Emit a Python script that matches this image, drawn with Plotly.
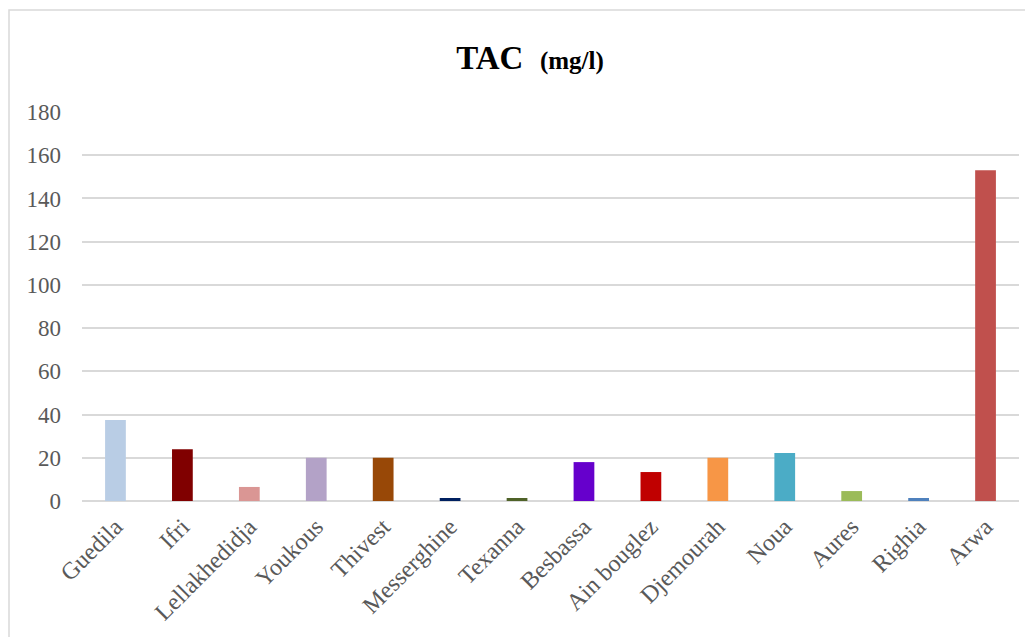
import plotly.graph_objects as go

categories = ["Guedila", "Ifri", "Lellakhedidja", "Youkous", "Thivest", "Messerghine",
              "Texanna", "Besbassa", "Ain bouglez", "Djemourah", "Noua", "Aures", "Righia", "Arwa"]
values = [37.5, 24, 6.5, 20, 20, 1.4, 1.4, 18, 13.4, 20, 22.2, 4.6, 1.4, 153]
colors = ["#B9CDE5", "#800000", "#DA9694", "#B3A2C7", "#984807", "#002060", "#4F6228",
          "#6600CC", "#C00000", "#F79646", "#4BACC6", "#9BBB59", "#4F81BD", "#C0504D"]
y_ticks = [0, 20, 40, 60, 80, 100, 120, 140, 160, 180]

# page has an 8px body margin; figure sized to fill the rest of the window
OFF = 8
W, H = 1033 - OFF, 637 - OFF
L, R, T, B = 82 - OFF, 14, 112 - OFF, 136
pw, ph = W - L - R, H - T - B

fig = go.Figure(go.Bar(x=categories, y=values, marker=dict(color=colors, line=dict(width=0)),
                       width=0.31))

def px_x(p):
    return (p - OFF - L) / pw

def px_y(p):
    return (H - B - (p - OFF)) / ph

fig.update_layout(
    width=W, height=H,
    margin=dict(l=L, r=R, t=T, b=B, autoexpand=False),
    paper_bgcolor="white", plot_bgcolor="white",
    font=dict(family="Liberation Serif", color="#595959"),
    showlegend=False,
    title=dict(text="<b>TAC</b>  <b><span style='font-size:25px'>(mg/l)</span></b>",
               font=dict(family="Liberation Serif", size=33, color="black"),
               x=(530 - OFF) / W, xref="container", xanchor="center",
               y=1 - (57 - OFF) / H, yanchor="middle"),
    xaxis=dict(tickangle=-45, tickfont=dict(size=24, color="#595959"), showgrid=False,
               showline=False, ticks="", range=[-0.5, len(categories) - 0.5],
               ticklabelstandoff=6),
    yaxis=dict(range=[0, 180], tickvals=y_ticks, tickfont=dict(size=23, color="#595959"),
               showgrid=True, gridcolor="#D9D9D9", gridwidth=1.5, zeroline=True,
               zerolinecolor="#D9D9D9", zerolinewidth=1.5, showline=False, ticks="",
               ticklabelstandoff=20),
    shapes=[dict(type="rect", xref="paper", yref="paper",
                 x0=px_x(9), x1=px_x(1030), y0=px_y(650), y1=px_y(10),
                 line=dict(color="#D9D9D9", width=1.5), layer="below")],
)

fig.write_html("out.html")
